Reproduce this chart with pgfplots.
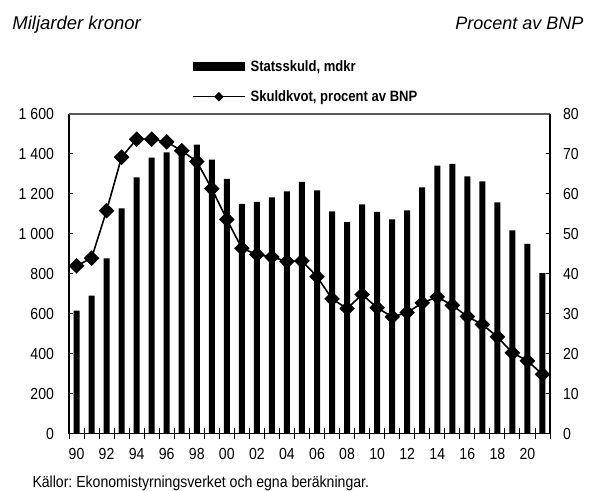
\documentclass[border=0pt]{standalone}
\usepackage{fontspec}
\setmainfont{Liberation Sans}
\newfontfamily\tickfont[FakeStretch=0.88]{Liberation Sans}
\newfontfamily\legfont[FakeStretch=0.87]{Liberation Sans}
\usepackage{pgfplots}
\pgfplotsset{compat=1.18}
\frenchspacing

\pgfplotstableread{
year debt
1990 615
1991 690
1992 877
1993 1128
1994 1283
1995 1382
1996 1408
1997 1425
1998 1447
1999 1372
2000 1275
2001 1150
2002 1160
2003 1183
2004 1212
2005 1260
2006 1217
2007 1112
2008 1058
2009 1147
2010 1110
2011 1072
2012 1117
2013 1233
2014 1342
2015 1350
2016 1288
2017 1262
2018 1158
2019 1017
2020 950
2021 803
}\debttable

\pgfplotstableread{
year ratio
1990 42.0
1991 43.9
1992 55.8
1993 69.2
1994 73.7
1995 73.7
1996 73.0
1997 70.8
1998 68.1
1999 61.3
2000 53.6
2001 46.4
2002 44.8
2003 44.2
2004 43.1
2005 43.2
2006 39.3
2007 33.7
2008 31.3
2009 34.8
2010 31.5
2011 29.2
2012 30.3
2013 32.7
2014 34.2
2015 32.1
2016 29.3
2017 27.3
2018 24.2
2019 20.2
2020 18.2
2021 14.8
}\ratiotable

\pgfplotsset{
  common/.style={
    at={(0pt,0pt)}, anchor=south west,
    scale only axis, width=481pt, height=319.5pt,
    xmin=1989.5, xmax=2021.5,
    axis line style={black, line width=1.1pt},
    tick style={black, line width=0.9pt},
    /pgf/number format/assume math mode=true,
    ticklabel style={font=\tickfont\fontsize{16}{19}\selectfont},
  },
  my line legend/.style={
    legend image code/.code={\draw[mark repeat=2,mark phase=2,##1] plot coordinates {(0pt,0pt) (26pt,0pt) (52pt,0pt)};}
  },
  my bar legend/.style={
    legend image code/.code={\fill[black] (0pt,-4pt) rectangle (51pt,4pt);}
  },
}

\begin{document}
\begin{tikzpicture}
\path[use as bounding box] (-69pt,-56.5pt) rectangle (520pt,433.5pt);

% bars + x axis
\begin{axis}[common,
  ymin=0, ymax=1600,
  axis x line*=bottom, axis y line=none,
  tick align=center, major tick length=0pt, minor tick length=10pt,
  xtick={1990,1992,...,2020},
  xticklabels={90,92,94,96,98,00,02,04,06,08,10,12,14,16,18,20},
  minor xtick={1989.5,1990.5,...,2021.5},
  xticklabel style={yshift=-11.5pt},
]
\addplot[ybar, bar width=6pt, fill=black, draw=none] table[x=year, y=debt] {\debttable};
\end{axis}

% left y axis
\begin{axis}[common,
  ymin=0, ymax=1600,
  axis x line=none, axis y line*=left,
  tick align=inside, major tick length=4.5pt,
  ytick={0,200,...,1600},
  yticklabels={0,200,400,600,800,1 000,1 200,1 400,1 600},
  yticklabel style={xshift=-11.5pt},
]
\addplot[draw=none] coordinates {(1990,0)};
\end{axis}

% line + right y axis + top frame
\begin{axis}[common,
  ymin=0, ymax=80,
  axis x line*=top, axis y line*=right,
  x axis line style={gray!70!black, line width=1.1pt},
  xtick=\empty,
  tick align=inside, major tick length=4.5pt,
  ytick={0,10,...,80},
  yticklabel style={xshift=9.5pt},
  legend style={draw=none, fill=none,
    at={(axis description cs:0.2557,1.169)}, anchor=north west,
    inner sep=0pt, row sep=18pt, column sep=5pt,
    font=\legfont\bfseries\fontsize{15}{18}\selectfont,
    nodes={inner sep=0pt}},
  legend cell align=left,
  clip=false,
]
\addlegendimage{my bar legend}
\addlegendentry{Statsskuld, mdkr}
\addplot[black, line width=1.6pt, mark=square*, mark size=4.7pt,
  mark options={rotate=45, solid}, my line legend,
  legend image post style={mark size=2.6pt, line width=1.4pt}]
  table[x=year, y=ratio] {\ratiotable};
\addlegendentry{Skuldkvot, procent av BNP}

\node[anchor=base west, font=\itshape\fontsize{18.5}{21}\selectfont]
  at (axis description cs:-0.125,1.2645) {Miljarder kronor};
\node[anchor=base east, font=\itshape\fontsize{18}{21}\selectfont]
  at (axis description cs:1.0769,1.2645) {Procent av BNP};
\node[anchor=base west, font=\tickfont\fontsize{16}{19}\selectfont]
  at (axis description cs:-0.0832,-0.1690) {Källor: Ekonomistyrningsverket och egna beräkningar.};
\end{axis}
\end{tikzpicture}
\end{document}
